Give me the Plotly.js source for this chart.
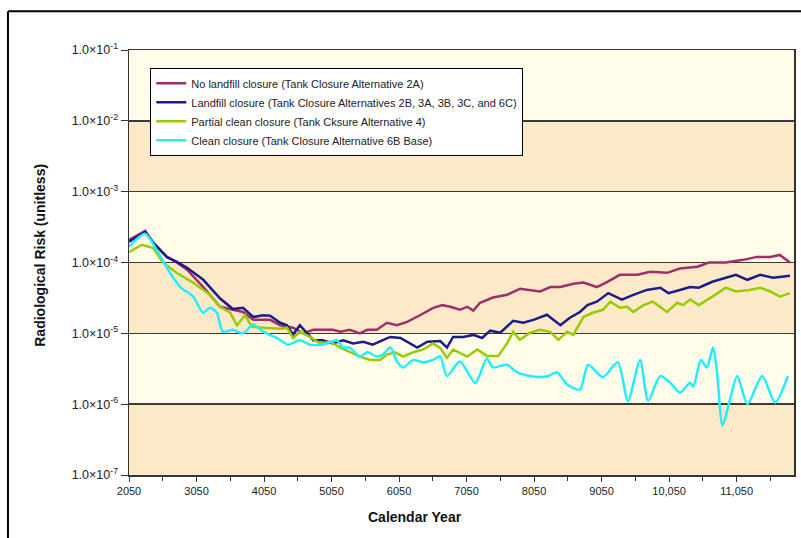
<!DOCTYPE html>
<html>
<head>
<meta charset="utf-8">
<script src="https://cdn.plot.ly/plotly-3.0.1.min.js"></script>
<style>
html,body{margin:0;padding:0;background:#fff;}
#chart{width:801px;height:538px;}
</style>
</head>
<body>
<div id="chart"></div>
<script>
// ---- Data ----
const seriesNames = [
  "No landfill closure (Tank Closure Alternative 2A)",
  "Landfill closure (Tank Closure Alternatives 2B, 3A, 3B, 3C, and 6C)",
  "Partial clean closure (Tank Cksure Alternative 4)",
  "Clean closure (Tank Closure Alternative 6B Base)"
];

const yearsNoLandfill = [2050,2290,2410,2610,2760,2910,3150,3400,3590,3740,3890,4140,4290,4480,4630,4780,4920,5070,5180,5320,5470,5580,5720,5870,6020,6170,6360,6550,6690,6810,6950,7060,7150,7250,7440,7650,7840,7990,8140,8290,8440,8630,8780,8980,9130,9320,9580,9770,10020,10210,10470,10640,10890,11150,11350,11550,11690,11840];
const riskNoLandfill = [2.09e-4,2.8e-4,1.9e-4,1.2e-4,1.0e-4,7.9e-5,4.5e-5,2.37e-5,2.15e-5,2.0e-5,1.55e-5,1.55e-5,1.3e-5,1.2e-5,1.0e-5,1.12e-5,1.12e-5,1.12e-5,1.05e-5,1.12e-5,1.0e-5,1.12e-5,1.12e-5,1.41e-5,1.3e-5,1.45e-5,1.8e-5,2.27e-5,2.5e-5,2.37e-5,2.15e-5,2.37e-5,2.1e-5,2.7e-5,3.2e-5,3.5e-5,4.25e-5,4.1e-5,3.9e-5,4.5e-5,4.5e-5,5.0e-5,5.2e-5,4.5e-5,5.3e-5,6.7e-5,6.7e-5,7.4e-5,7.15e-5,8.2e-5,8.7e-5,1.0e-4,1.0e-4,1.09e-4,1.2e-4,1.2e-4,1.28e-4,1.0e-4];

const yearsLandfill = [2050,2290,2410,2610,2760,2910,3150,3400,3590,3740,3890,4040,4140,4290,4390,4480,4580,4690,4780,4920,5070,5220,5370,5520,5660,5810,5920,6070,6210,6320,6470,6660,6760,6850,7000,7150,7280,7400,7550,7740,7890,8040,8240,8440,8580,8730,8840,8980,9150,9350,9520,9720,9920,10040,10210,10360,10490,10690,10890,11040,11210,11400,11590,11740,11840];
const riskLandfill = [1.96e-4,2.7e-4,1.9e-4,1.2e-4,1.02e-4,8.4e-5,5.7e-5,3.1e-5,2.2e-5,2.3e-5,1.7e-5,1.8e-5,1.77e-5,1.41e-5,1.3e-5,9.6e-6,1.3e-5,1.0e-5,8.0e-6,8.0e-6,7.2e-6,8.0e-6,7.2e-6,7.6e-6,6.9e-6,8.0e-6,8.9e-6,8.6e-6,7.2e-6,6.3e-6,7.6e-6,7.8e-6,6.3e-6,8.9e-6,8.9e-6,9.5e-6,8.6e-6,1.09e-5,1.02e-5,1.5e-5,1.41e-5,1.55e-5,1.83e-5,1.3e-5,1.66e-5,2.0e-5,2.5e-5,2.8e-5,3.7e-5,3.0e-5,3.5e-5,4.1e-5,4.4e-5,3.7e-5,4.1e-5,4.5e-5,4.4e-5,5.35e-5,6.1e-5,6.7e-5,5.7e-5,6.7e-5,6.1e-5,6.3e-5,6.5e-5];

const yearsPartial = [2050,2240,2410,2550,2760,3000,3250,3400,3550,3650,3770,3870,4040,4290,4390,4480,4580,4730,4880,5030,5180,5320,5470,5620,5770,5870,5990,6110,6260,6410,6550,6660,6760,6850,7060,7210,7350,7520,7650,7740,7840,7990,8140,8290,8410,8540,8630,8780,8920,9070,9180,9320,9430,9520,9670,9810,10020,10170,10260,10360,10490,10690,10890,11040,11240,11400,11550,11690,11840];
const riskPartial = [1.4e-4,1.78e-4,1.6e-4,1.0e-4,7.1e-5,5.2e-5,3.5e-5,2.37e-5,1.95e-5,1.3e-5,1.8e-5,1.24e-5,1.2e-5,1.16e-5,1.2e-5,8.6e-6,1.05e-5,8.9e-6,7.2e-6,7.6e-6,6.3e-6,5.4e-6,4.7e-6,4.2e-6,4.2e-6,5.0e-6,5.4e-6,4.7e-6,5.4e-6,5.9e-6,7.2e-6,6.2e-6,4.5e-6,5.9e-6,4.7e-6,5.9e-6,4.8e-6,4.8e-6,7.2e-6,1.05e-5,8.1e-6,1.02e-5,1.12e-5,1.05e-5,8.1e-6,1.05e-5,9.5e-6,1.7e-5,1.95e-5,2.15e-5,2.8e-5,2.3e-5,2.37e-5,2.0e-5,2.5e-5,2.8e-5,2.0e-5,2.7e-5,2.5e-5,3.0e-5,2.5e-5,3.3e-5,4.4e-5,3.9e-5,4.1e-5,4.4e-5,3.9e-5,3.3e-5,3.7e-5];

const yearsClean = [2050,2290,2460,2660,2810,3000,3150,3250,3350,3440,3590,3740,3890,4040,4240,4410,4580,4730,4880,4980,5130,5220,5320,5470,5580,5720,5810,5920,6020,6110,6260,6410,6550,6660,6760,6950,7180,7350,7440,7650,7800,8040,8240,8390,8540,8730,8850,9070,9290,9440,9620,9740,9920,10070,10210,10360,10410,10520,10610,10700,10760,10840,10940,11060,11210,11430,11620,11810];
const riskClean = [1.67e-4,2.54e-4,1.5e-4,7.1e-5,4.5e-5,3.3e-5,1.95e-5,2.3e-5,1.95e-5,1.05e-5,1.12e-5,1.0e-5,1.33e-5,1.05e-5,8.6e-6,6.9e-6,8.0e-6,6.9e-6,6.9e-6,7.2e-6,8.0e-6,6.3e-6,6.3e-6,4.7e-6,5.4e-6,4.7e-6,5.0e-6,6.3e-6,4.0e-6,3.3e-6,4.2e-6,3.9e-6,4.2e-6,4.7e-6,2.5e-6,4.0e-6,2.0e-6,4.4e-6,3.3e-6,3.6e-6,2.8e-6,2.45e-6,2.45e-6,2.8e-6,1.9e-6,1.6e-6,3.6e-6,2.4e-6,3.9e-6,1.1e-6,4.2e-6,1.12e-6,2.5e-6,2.0e-6,1.45e-6,2.0e-6,1.78e-6,4.2e-6,3.3e-6,6.3e-6,2.8e-6,5.0e-7,1.05e-6,2.5e-6,1.0e-6,2.5e-6,1.05e-6,2.5e-6];

const xTickVals = [2050,3050,4050,5050,6050,7050,8050,9050,10050,11050];
const xTickText = ["2050","3050","4050","5050","6050","7050","8050","9050","10,050","11,050"];
const yTickVals = [1e-1,1e-2,1e-3,1e-4,1e-5,1e-6,1e-7];
const yTickText = ["1.0×10<sup>-1</sup>","1.0×10<sup>-2</sup>","1.0×10<sup>-3</sup>","1.0×10<sup>-4</sup>","1.0×10<sup>-5</sup>","1.0×10<sup>-6</sup>","1.0×10<sup>-7</sup>"];

// ---- Styles ----
const colors = ["#9E2F6C","#1C1C8A","#99CC00","#22EEFF"];
const font = "Liberation Sans, Arial, sans-serif";

const xs = [yearsNoLandfill, yearsLandfill, yearsPartial, yearsClean];
const ys = [riskNoLandfill, riskLandfill, riskPartial, riskClean];

const traces = xs.map((x, i) => ({
  x: x, y: ys[i], name: seriesNames[i], type: "scatter", mode: "lines",
  line: {color: colors[i], width: 2.5, shape: i === 3 ? "spline" : "linear", smoothing: 0.7}
}));

const tan = "#FCE9C8";
const bands = [[0, 1/6], [2/6, 3/6], [4/6, 5/6]].map(b => ({
  type: "rect", xref: "x domain", yref: "y domain", x0: 0, x1: 1, y0: b[0], y1: b[1],
  fillcolor: tan, line: {width: 0}, layer: "below"
}));

const frame = [
  {type: "line", xref: "paper", yref: "paper", x0: -0.182, x1: 1.02, y0: 1.091, y1: 1.091, line: {color: "#000", width: 2}},
  {type: "line", xref: "paper", yref: "paper", x0: -0.182, x1: -0.182, y0: 1.091, y1: -0.16, line: {color: "#000", width: 2}}
];

const layout = {
  width: 801, height: 538,
  margin: {l: 129, r: 7, t: 50, b: 63},
  paper_bgcolor: "#ffffff",
  plot_bgcolor: "#FFFDEA",
  font: {family: font, size: 11, color: "#222"},
  showlegend: true,
  legend: {
    x: 0.032, y: 0.958, xanchor: "left", yanchor: "top",
    bgcolor: "#ffffff", bordercolor: "#000", borderwidth: 1,
    font: {family: font, size: 11, color: "#222"},
    itemwidth: 30,
    tracegroupgap: 0
  },
  xaxis: {
    range: [2050, 11900], showgrid: false, zeroline: false,
    tickmode: "array", tickvals: xTickVals, ticktext: xTickText,
    ticks: "outside", ticklen: 5, tickcolor: "#333", tickwidth: 1,
    showline: true, linecolor: "#333", linewidth: 1.5, mirror: true,
    tickfont: {family: font, size: 11, color: "#222"},
    minor: {tickmode: "linear", tick0: 2050, dtick: 500, ticks: "outside", ticklen: 4, tickcolor: "#333", showgrid: false}
  },
  yaxis: {
    type: "log", range: [-7, -1],
    tickmode: "array", tickvals: yTickVals, ticktext: yTickText,
    ticks: "outside", ticklen: 7, tickcolor: "#333", tickwidth: 1,
    showgrid: true, gridcolor: "#3a3a3a", gridwidth: 1.5,
    showline: true, linecolor: "#333", linewidth: 1.5, mirror: true,
    zeroline: false,
    tickfont: {family: font, size: 12.5, color: "#222"}
  },
  shapes: bands.concat(frame),
  annotations: [
    {text: "<b>Calendar Year</b>", xref: "paper", yref: "paper", x: 0.43, y: -0.099,
     xanchor: "center", yanchor: "middle", showarrow: false, font: {family: font, size: 14, color: "#111"}},
    {text: "<b>Radiological Risk (unitless)</b>", xref: "paper", yref: "paper", x: -0.134, y: 0.518,
     xanchor: "center", yanchor: "middle", textangle: -90, showarrow: false, font: {family: font, size: 14, color: "#111"}}
  ]
};

Plotly.newPlot("chart", traces, layout, {displayModeBar: false, staticPlot: true});
</script>
</body>
</html>
